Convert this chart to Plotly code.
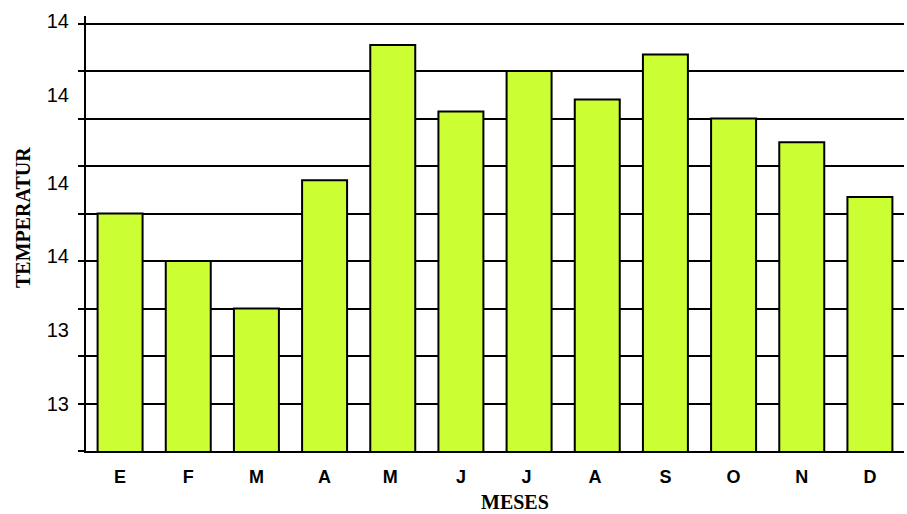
import plotly.graph_objects as go

# Monthly temperature values
meses = ["E", "F", "M", "A", "M ", "J", "J ", "A ", "S", "O", "N", "D"]
temperatura = [13.80, 13.60, 13.40, 13.94, 14.51, 14.23, 14.40, 14.28, 14.47, 14.20, 14.10, 13.87]

# Axis labels as printed on the value axis
etiquetas_pos = [13.00, 13.31, 13.62, 13.93, 14.30, 14.61]
etiquetas_txt = ["13", "13", "14", "14", "14", "14"]

y_min, y_max = 12.8, 14.632

fig = go.Figure()
fig.add_trace(go.Bar(
    x=meses, y=temperatura,
    marker=dict(color="#CCFF33", line=dict(color="black", width=2)),
    yaxis="y",
))
# invisible helper trace so the label axis is drawn
fig.add_trace(go.Scatter(x=[meses[0]], y=[y_min], mode="lines",
                         line=dict(width=0), yaxis="y2", hoverinfo="skip",
                         showlegend=False))

fig.update_layout(
    width=907, height=514,
    margin=dict(l=86, r=3, t=16, b=63),
    paper_bgcolor="white", plot_bgcolor="white",
    showlegend=False,
    bargap=0.34,
    font=dict(family="Liberation Sans, Arial, sans-serif", color="black"),
    xaxis=dict(
        type="category", categoryorder="array", categoryarray=meses,
        range=[-0.5, len(meses) - 0.5],
        showline=True, linecolor="black", linewidth=2,
        ticks="outside", ticklen=8, tickcolor="rgba(0,0,0,0)",
        tickfont=dict(size=18, family="Liberation Sans, Arial, sans-serif", weight="bold"),
        showgrid=False, zeroline=False,
    ),
    yaxis=dict(
        range=[y_min, y_max], tick0=y_min, dtick=0.2,
        showgrid=True, gridcolor="black", gridwidth=1.5,
        showline=True, linecolor="black", linewidth=2,
        ticks="outside", ticklen=6, tickcolor="black", tickwidth=1.5,
        showticklabels=False, zeroline=False,
    ),
    yaxis2=dict(
        range=[y_min, y_max], overlaying="y", side="left",
        tickmode="array", tickvals=etiquetas_pos, ticktext=etiquetas_txt,
        ticks="outside", ticklen=12, tickcolor="rgba(0,0,0,0)",
        tickfont=dict(size=20, family="Liberation Sans, Arial, sans-serif"),
        showgrid=False, zeroline=False, showline=False,
    ),
    annotations=[
        dict(text="<b>MESES</b>", xref="paper", yref="paper",
             x=(515 - 86) / (907 - 86 - 3), y=-(502 - 451) / (451 - 16),
             xanchor="center", yanchor="middle", showarrow=False,
             font=dict(family="Liberation Serif, Times New Roman, serif", size=20)),
        dict(text="<b>TEMPERATUR</b>", xref="paper", yref="paper",
             x=-(86 - 23) / (907 - 86 - 3), y=(451 - 218) / (451 - 16),
             xanchor="center", yanchor="middle", textangle=-90, showarrow=False,
             font=dict(family="Liberation Serif, Times New Roman, serif", size=20)),
    ],
)

fig.write_html("out.html")
